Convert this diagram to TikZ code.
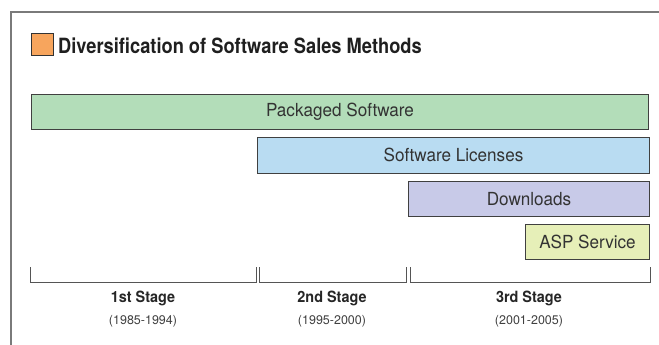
\documentclass[tikz,border=0pt]{standalone}
\usepackage{fontspec}
\newfontfamily\cnd{TeX Gyre Heros}[FakeStretch=0.87]
\newfontfamily\bartxt{TeX Gyre Heros}[FakeStretch=0.95]
\newfontfamily\stg{TeX Gyre Heros}[FakeStretch=0.93]
\newfontfamily\yrs{TeX Gyre Heros}[FakeStretch=1.0]
\definecolor{frameg}{HTML}{7A7A7A}
\definecolor{orng}{HTML}{F7A55D}
\definecolor{grn}{HTML}{B3DDB9}
\definecolor{blu}{HTML}{B9DCF2}
\definecolor{lav}{HTML}{C8CAE8}
\definecolor{ylw}{HTML}{E6EFB8}
\definecolor{txt}{HTML}{333333}
\definecolor{brk}{HTML}{555555}
\begin{document}
\begin{tikzpicture}[x=1pt,y=-1pt,
  bar/.style={draw=black!75,line width=1pt,inner sep=0pt,text=txt,font=\bartxt\fontsize{18}{21}\selectfont},
  bracket/.style={draw=brk,line width=1pt},
  stage/.style={font=\stg\bfseries\fontsize{15.5}{18}\selectfont,text=black!85,inner sep=0pt},
  years/.style={font=\yrs\fontsize{12.5}{15}\selectfont,text=black!75,inner sep=0pt}]
\useasboundingbox (0,0) rectangle (659,345);
% frame
\draw[frameg,line width=1.5pt] (11,345) -- (11,12) -- (659,12);
% title
\node[draw=black!80,fill=orng,line width=0.8pt,minimum width=22pt,minimum height=22pt,inner sep=0pt,anchor=north west] (sq) at (31,33) {};
\node[anchor=west,inner sep=0pt,font=\cnd\bfseries\fontsize{21}{25}\selectfont,text=black!88] (title) at (58,45.5) {Diversification of Software Sales Methods};
% bars
\node[bar,fill=grn,minimum width=617pt,minimum height=35pt,anchor=north west] (pk) at (31,94) {Packaged Software};
\node[bar,fill=blu,minimum width=392pt,minimum height=35.5pt,anchor=north west] (sl) at (257,137) {Software Licenses};
\node[bar,fill=lav,minimum width=241pt,minimum height=35pt,anchor=north west] (dl) at (408,181) {Downloads};
\node[bar,fill=ylw,minimum width=124pt,minimum height=35pt,anchor=north west] (asp) at (525,224) {ASP Service};
% brackets
\coordinate (b1a) at (30,267); \coordinate (b1b) at (256,267);
\coordinate (b2a) at (259,267); \coordinate (b2b) at (406,267);
\coordinate (b3a) at (410,267); \coordinate (b3b) at (650,267);
\draw[bracket] (b1a) -- ++(0,15) -| (b1b);
\draw[bracket] (b2a) -- ++(0,15) -| (b2b);
\draw[bracket] (b3a) -- ++(0,15) -| (b3b);
% stage labels
\node[stage] (s1) at (143,298) {1st Stage};
\node[stage] (s2) at (332,298) {2nd Stage};
\node[stage] (s3) at (529,298) {3rd Stage};
\node[years] (y1) at (143,321) {(1985-1994)};
\node[years] (y2) at (332,321) {(1995-2000)};
\node[years] (y3) at (529,321) {(2001-2005)};
\end{tikzpicture}
\end{document}
